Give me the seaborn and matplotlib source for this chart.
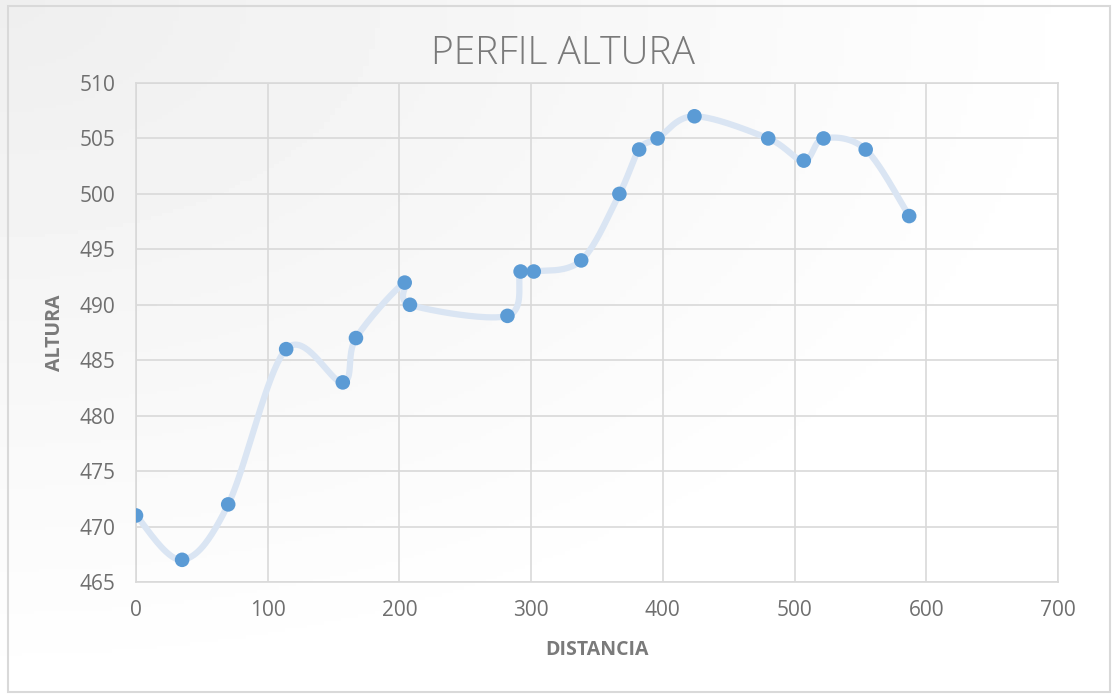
#!/usr/bin/env python3
"""
Perfil de altura - gráfico de dispersão com linha suavizada
"""

import numpy as np
import pandas as pd
import matplotlib
matplotlib.use("Agg")
import matplotlib.pyplot as plt
from matplotlib.patches import Rectangle
import seaborn as sns

# Dados
distancia = [0, 35, 70, 114, 157, 167, 204, 208, 282, 292, 302, 338, 367, 382, 396, 424, 480, 507, 522, 554, 587]
altura = [471, 467, 472, 486, 483, 487, 492, 490, 489, 493, 493, 494, 500, 504, 505, 507, 505, 503, 505, 504, 498]
x_ticks = [0, 100, 200, 300, 400, 500, 600, 700]
y_ticks = [465, 470, 475, 480, 485, 490, 495, 500, 505, 510]

TXT = "#6f6f6f"
TITULO = "#7a7a7a"
GRID = "#d9d9d9"
PONTO = "#5b9bd5"
LINHA = "#dae5f3"


def suaviza(x, y, n=40):
    """Curva Bezier estilo Excel (Catmull-Rom)"""
    p = np.column_stack([x, y]).astype(float)
    ext = np.vstack([p[0], p, p[-1]])
    out = []
    t = np.linspace(0, 1, n)[:, None]
    for i in range(len(p) - 1):
        p0, p3 = p[i], p[i + 1]
        c1 = p0 + (ext[i + 2] - ext[i]) / 6
        c2 = p3 - (ext[i + 3] - ext[i + 1]) / 6
        seg = ((1 - t) ** 3) * p0 + 3 * ((1 - t) ** 2) * t * c1 + 3 * (1 - t) * t ** 2 * c2 + t ** 3 * p3
        out.append(seg if i == 0 else seg[1:])
    return np.vstack(out)


df = pd.DataFrame({"DISTANCIA": distancia, "ALTURA": altura})
curva = suaviza(distancia, altura)
df_curva = pd.DataFrame({"DISTANCIA": curva[:, 0], "ALTURA": curva[:, 1]})

sns.set_theme(style="white")
plt.rcParams["font.family"] = ["Open Sans", "DejaVu Sans"]

fig = plt.figure(figsize=(11.18, 6.98), dpi=100)
fig.patch.set_facecolor("white")

# fundo com leve gradiente
bg = fig.add_axes([0, 0, 1, 1], zorder=-10)
gx, gy = np.meshgrid(np.linspace(0, 1, 200), np.linspace(0, 1, 200))
grad = 0.935 + 0.065 * np.clip(np.hypot(gx, gy), 0, 1)
bg.imshow(grad, cmap="gray", vmin=0, vmax=1, aspect="auto", extent=[0, 1, 0, 1], origin="upper")
bg.add_patch(Rectangle((8 / 1118, 6 / 698), 1102 / 1118, 686 / 698, fill=False,
                       edgecolor=GRID, lw=1.5, transform=bg.transAxes))
bg.set_xlim(0, 1)
bg.set_ylim(0, 1)
bg.axis("off")

ax = fig.add_axes([136 / 1118, 116 / 698, 922 / 1118, 499 / 698])
ax.patch.set_alpha(0)

sns.lineplot(data=df_curva, x="DISTANCIA", y="ALTURA", sort=False, estimator=None,
             color=LINHA, lw=4.5, ax=ax, zorder=2)
sns.scatterplot(data=df, x="DISTANCIA", y="ALTURA", color=PONTO, s=110,
                edgecolor="none", ax=ax, zorder=3)

ax.set_xlim(0, 700)
ax.set_ylim(465, 510)
ax.set_xticks(x_ticks)
ax.set_yticks(y_ticks)
ax.grid(True, color=GRID, lw=1.2)
for s in ax.spines.values():
    s.set_color(GRID)
    s.set_linewidth(1.2)
ax.tick_params(axis="both", labelsize=15, colors=TXT, length=0)
ax.tick_params(axis="x", pad=13)
ax.tick_params(axis="y", pad=15)

ax.set_xlabel("DISTANCIA", fontsize=14, fontweight="bold", color=TITULO, va="center")
ax.set_ylabel("ALTURA", fontsize=14, fontweight="bold", color=TITULO, va="center")
ax.xaxis.set_label_coords(0.5, -68 / 499)
ax.yaxis.set_label_coords(-81 / 922, 0.5)
fig.text(563 / 1118, 1 - 54 / 698, "PERFIL ALTURA", ha="center", va="center",
         fontsize=28, color=TITULO, fontweight="light")

plt.savefig("out.png", dpi=100)
plt.close()
